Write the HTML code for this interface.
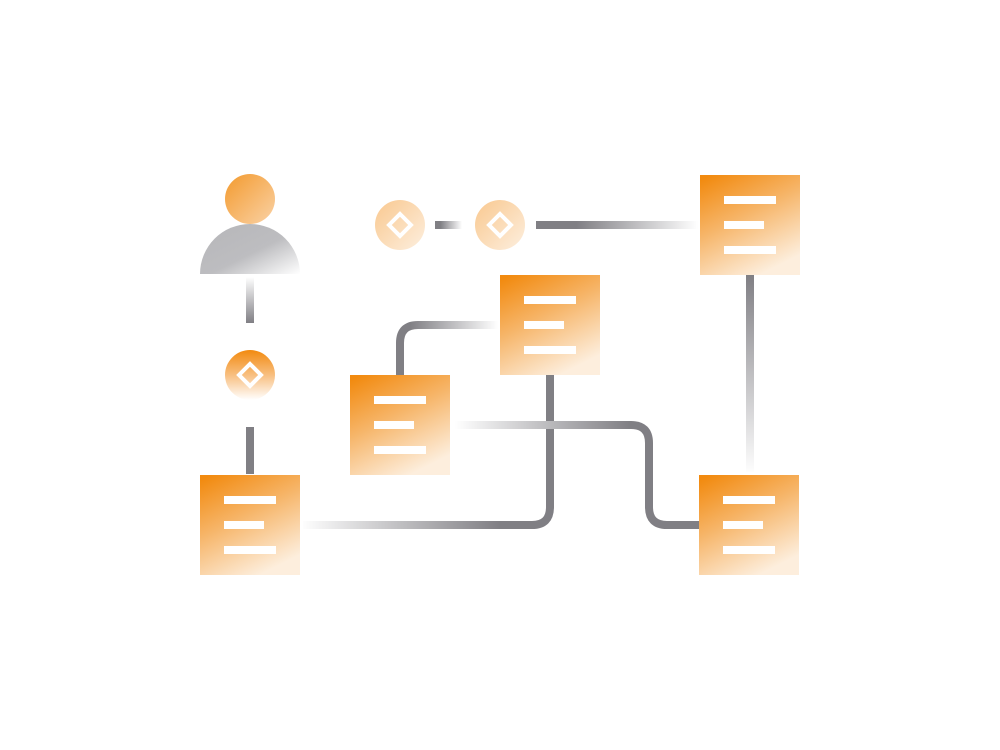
<!DOCTYPE html>
<html><head><meta charset="utf-8"><style>html,body{margin:0;padding:0;background:#fff}svg{display:block}</style></head>
<body>
<svg width="1000" height="750" viewBox="0 0 1000 750" xmlns="http://www.w3.org/2000/svg">
<defs>
<linearGradient id="box" x1="0.1" y1="0" x2="0.6" y2="1"><stop offset="0" stop-color="#f28a0f"/><stop offset="0.45" stop-color="#f6b467"/><stop offset="1" stop-color="#fdeedd"/></linearGradient>
<linearGradient id="body" x1="0" y1="0" x2="1" y2="1"><stop offset="0" stop-color="#b6b6b9"/><stop offset="0.55" stop-color="#bdbdc0"/><stop offset="1" stop-color="#ffffff"/></linearGradient>
<linearGradient id="head" x1="0" y1="0" x2="1" y2="1"><stop offset="0" stop-color="#f39a2e"/><stop offset="1" stop-color="#fad2a6"/></linearGradient>
<linearGradient id="cir1" x1="0" y1="0" x2="0" y2="1"><stop offset="0" stop-color="#f28a0f"/><stop offset="0.5" stop-color="#f8bf80"/><stop offset="1" stop-color="#ffffff"/></linearGradient>
<linearGradient id="cir2" x1="0" y1="0" x2="1" y2="1"><stop offset="0" stop-color="#f9c88f"/><stop offset="1" stop-color="#fdefdf"/></linearGradient>
<linearGradient id="gv1" x1="0" y1="277" x2="0" y2="323" gradientUnits="userSpaceOnUse"><stop offset="0" stop-color="#fff"/><stop offset="1" stop-color="#807f84"/></linearGradient>
<linearGradient id="gh1" x1="435" y1="0" x2="462" y2="0" gradientUnits="userSpaceOnUse"><stop offset="0.2" stop-color="#807f84"/><stop offset="1" stop-color="#fff"/></linearGradient>
<linearGradient id="gh2" x1="536" y1="0" x2="698" y2="0" gradientUnits="userSpaceOnUse"><stop offset="0.25" stop-color="#807f84"/><stop offset="1" stop-color="#fff"/></linearGradient>
<linearGradient id="gv2" x1="0" y1="275" x2="0" y2="475" gradientUnits="userSpaceOnUse"><stop offset="0" stop-color="#807f84"/><stop offset="1" stop-color="#fff"/></linearGradient>
<linearGradient id="gh3" x1="400" y1="0" x2="498" y2="0" gradientUnits="userSpaceOnUse"><stop offset="0.1" stop-color="#807f84"/><stop offset="1" stop-color="#fff"/></linearGradient>
<linearGradient id="gh4" x1="300" y1="0" x2="500" y2="0" gradientUnits="userSpaceOnUse"><stop offset="0" stop-color="#fff"/><stop offset="1" stop-color="#807f84"/></linearGradient>
<linearGradient id="gh5" x1="455" y1="0" x2="630" y2="0" gradientUnits="userSpaceOnUse"><stop offset="0" stop-color="#fff"/><stop offset="1" stop-color="#807f84"/></linearGradient>
</defs>
<g fill="none" stroke-width="8">
<line x1="250" y1="277" x2="250" y2="323" stroke="url(#gv1)"/>
<line x1="250" y1="427" x2="250" y2="474" stroke="#807f84"/>
<line x1="435" y1="225" x2="462" y2="225" stroke="url(#gh1)"/>
<line x1="536" y1="225" x2="698" y2="225" stroke="url(#gh2)"/>
<line x1="750" y1="275" x2="750" y2="472" stroke="url(#gv2)"/>
<path d="M400 376 V343 Q400 325 418 325 H498" stroke="url(#gh3)"/>
<path d="M550 375 V507 Q550 525 532 525 H303" stroke="url(#gh4)"/>
<path d="M455 425 H631 Q649 425 649 443 V507 Q649 525 667 525 H700" stroke="url(#gh5)"/>
</g>
<circle cx="250" cy="199" r="25" fill="url(#head)"/>
<path d="M200 274 A50 50 0 0 1 300 274 Z" fill="url(#body)"/>
<circle cx="250" cy="375" r="25" fill="url(#cir1)"/>
<circle cx="400" cy="225" r="25" fill="url(#cir2)"/>
<circle cx="500" cy="225" r="25" fill="url(#cir2)"/>
<g fill="none" stroke="#fff" stroke-width="4">
<path d="M250 364 L261 375 L250 386 L239 375 Z"/>
<path d="M400 214 L411 225 L400 236 L389 225 Z"/>
<path d="M500 214 L511 225 L500 236 L489 225 Z"/>
</g>
<g>
<g transform="translate(200,475)"><rect width="100" height="100" fill="url(#box)"/><rect x="24" y="21" width="52" height="8" fill="#fff"/><rect x="24" y="46" width="40" height="8" fill="#fff"/><rect x="24" y="71" width="52" height="8" fill="#fff"/></g>
<g transform="translate(350,375)"><rect width="100" height="100" fill="url(#box)"/><rect x="24" y="21" width="52" height="8" fill="#fff"/><rect x="24" y="46" width="40" height="8" fill="#fff"/><rect x="24" y="71" width="52" height="8" fill="#fff"/></g>
<g transform="translate(500,275)"><rect width="100" height="100" fill="url(#box)"/><rect x="24" y="21" width="52" height="8" fill="#fff"/><rect x="24" y="46" width="40" height="8" fill="#fff"/><rect x="24" y="71" width="52" height="8" fill="#fff"/></g>
<g transform="translate(700,175)"><rect width="100" height="100" fill="url(#box)"/><rect x="24" y="21" width="52" height="8" fill="#fff"/><rect x="24" y="46" width="40" height="8" fill="#fff"/><rect x="24" y="71" width="52" height="8" fill="#fff"/></g>
<g transform="translate(699,475)"><rect width="100" height="100" fill="url(#box)"/><rect x="24" y="21" width="52" height="8" fill="#fff"/><rect x="24" y="46" width="40" height="8" fill="#fff"/><rect x="24" y="71" width="52" height="8" fill="#fff"/></g>
</g>
</svg>
</body></html>
